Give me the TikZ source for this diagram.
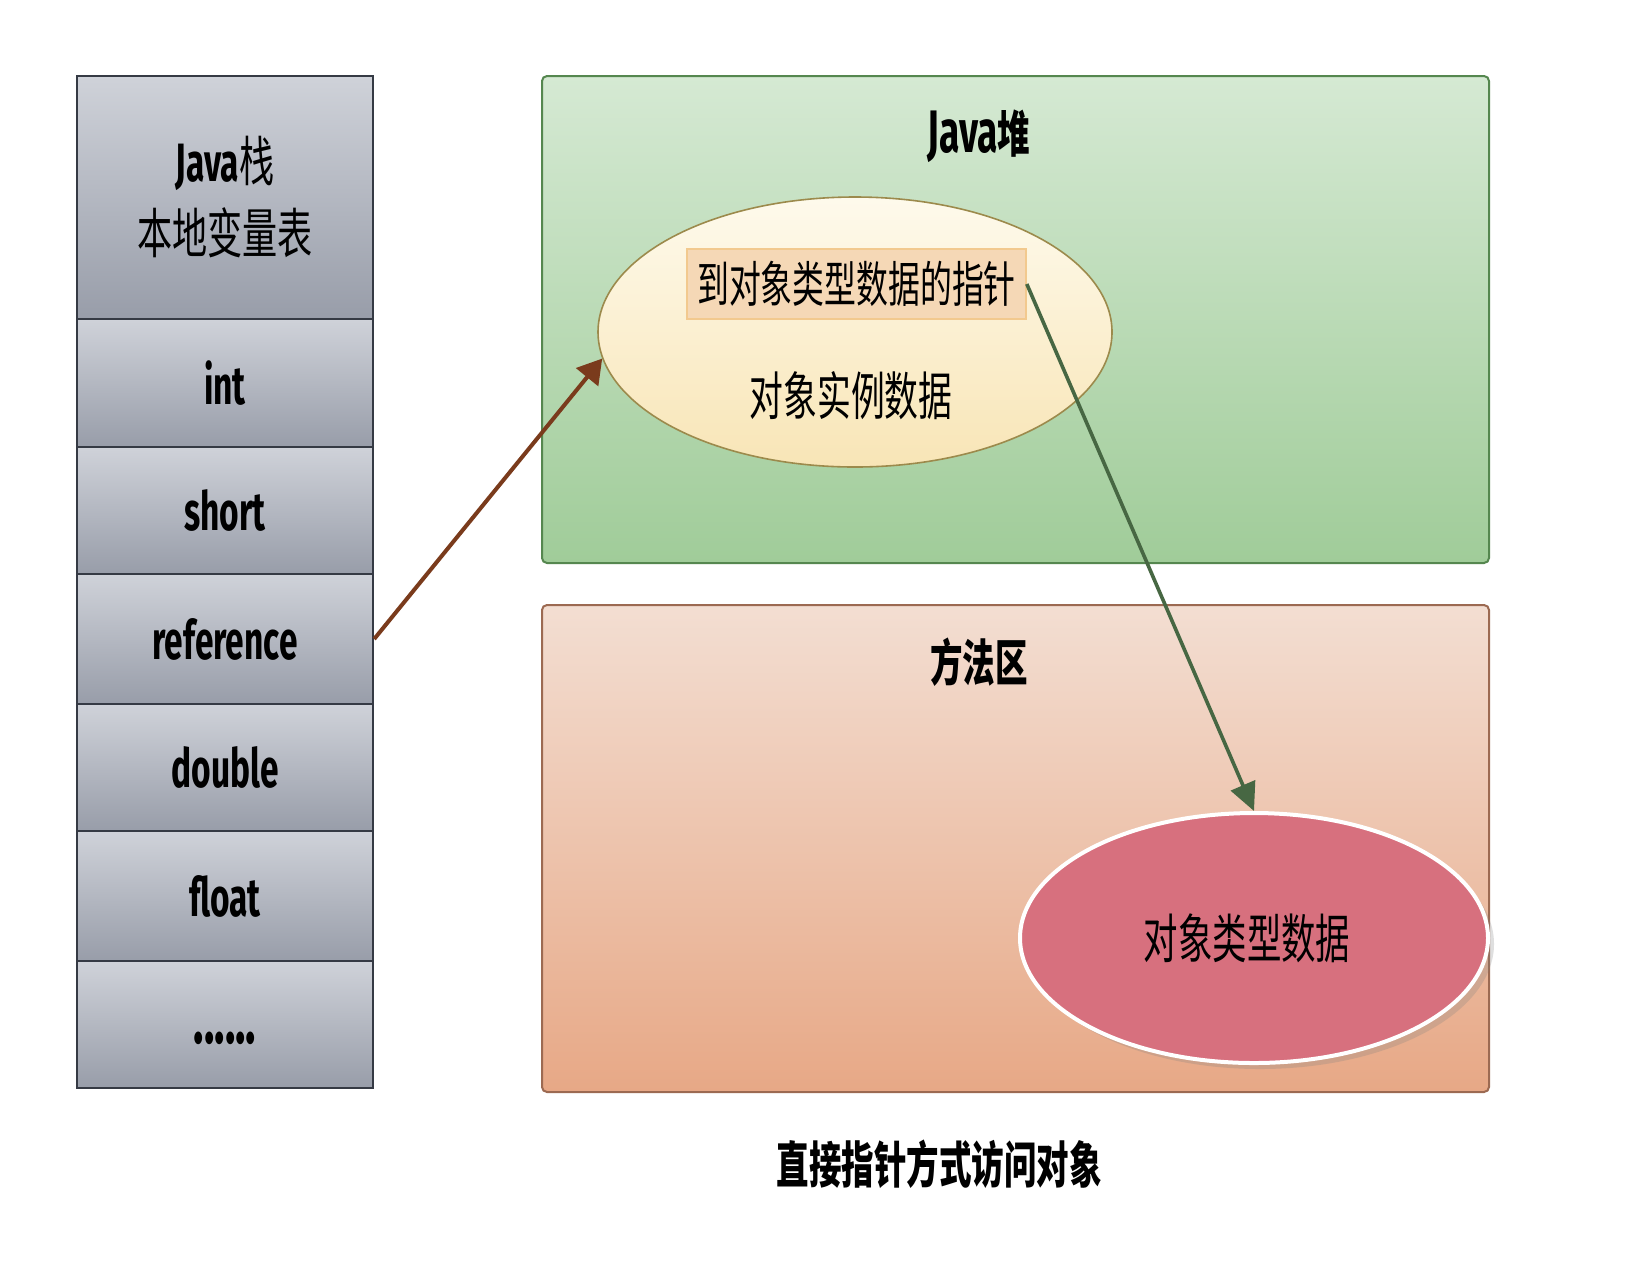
\documentclass[tikz,border=0pt]{standalone}
\usepackage{fontspec}
\setmainfont{Fira Sans}
\newfontfamily\latf[FakeStretch=0.62]{Fira Sans}
\newfontfamily\cjk[FakeStretch=0.65]{Noto Sans CJK SC}
\usetikzlibrary{shapes.geometric,arrows.meta,shadows}
\definecolor{celltop}{HTML}{CFD2D9}
\definecolor{cellbot}{HTML}{989DA9}
\definecolor{cellborder}{HTML}{353A44}
\definecolor{heaptop}{HTML}{D5E9D3}
\definecolor{heapbot}{HTML}{A0CC99}
\definecolor{heapborder}{HTML}{55874F}
\definecolor{mtop}{HTML}{F3DED2}
\definecolor{mbot}{HTML}{E7A886}
\definecolor{mborder}{HTML}{9C6A52}
\definecolor{ytop}{HTML}{FEFAEC}
\definecolor{ybot}{HTML}{F8E5B6}
\definecolor{yborder}{HTML}{9C8A4C}
\definecolor{ptrfill}{HTML}{F5D8B6}
\definecolor{ptrborder}{HTML}{F2C98E}
\definecolor{redfill}{HTML}{D7707E}
\definecolor{brownarrow}{HTML}{7A3B1C}
\definecolor{greenarrow}{HTML}{476743}
\tikzset{
  cell/.style={draw=cellborder, line width=1.2pt, top color=celltop, bottom color=cellbot,
    minimum width=148pt, minimum height=64pt, inner sep=0pt,
    font=\latf\bfseries\fontsize{27}{30}\selectfont},
  area/.style={line width=1pt, rounded corners=2.5pt, minimum width=473.5pt,
    minimum height=243.5pt, inner sep=0pt},
  title/.style={font=\cjk\bfseries\fontsize{25}{30}\selectfont, inner sep=0pt},
  cjktext/.style={font=\cjk\fontsize{26}{30}\selectfont, inner sep=0pt},
}
\begin{document}
\begin{tikzpicture}[x=0.5pt,y=-0.5pt]
\fill[white] (0,0) rectangle (1642,1260);
\useasboundingbox (0,0) rectangle (1642,1260);
% stack
\node[cell, minimum height=121.5pt, align=center] (hdr) at (225,197.5)
  {\raisebox{1pt}{\latf\bfseries Java{\cjk\mdseries 栈}}\\[5pt]{\cjk\mdseries 本地变量表}};
\node[cell] (int) at (225,383) {\raisebox{-2pt}{int}};
\node[cell, minimum height=63.5pt] (short) at (225,510.5) {\raisebox{-2pt}{short}};
\node[cell, minimum height=65pt] (ref) at (225,639) {\raisebox{-2pt}{reference}};
\node[cell, minimum height=63.5pt] (double) at (225,767.5) {\raisebox{-2pt}{double}};
\node[cell, minimum height=65pt] (float) at (225,896) {\raisebox{-2pt}{float}};
\node[cell, minimum height=63.5pt] (dots) at (225,1024.5)
  {\raisebox{-20pt}{\fontsize{35}{36}\selectfont ......}};
% heap
\node[area, draw=heapborder, top color=heaptop, bottom color=heapbot] (heap) at (1015.5,319.5) {};
\node[title] (heapt) at (979,136) {{\latf\bfseries\fontsize{30}{30}\selectfont Java}堆};
\node[ellipse, draw=yborder, line width=0.8pt, top color=ytop, bottom color=ybot,
  minimum width=257pt, minimum height=135pt, inner sep=0pt] (obj) at (855,332) {};
\node[draw=ptrborder, line width=0.8pt, fill=ptrfill, minimum width=169.5pt, minimum height=35pt,
  cjktext, font=\cjk\fontsize{24.5}{30}\selectfont] (ptr) at (856.5,284) {到对象类型数据的指针};
\node[cjktext] (inst) at (851,396) {对象实例数据};
% method area
\node[area, draw=mborder, top color=mtop, bottom color=mbot] (meth) at (1015.5,848.5) {};
\node[title] (metht) at (979,662) {方法区};
\node[ellipse, draw=white, line width=2pt, fill=redfill,
  drop shadow={shadow xshift=3pt, shadow yshift=-3pt, opacity=0.25},
  minimum width=234pt, minimum height=125pt, inner sep=0pt,
  font=\cjk\fontsize{26.5}{30}\selectfont] (type) at (1254,938) {\hspace*{-7pt}对象类型数据};
% arrows
\draw[brownarrow, line width=2pt, -{Triangle[length=12pt,width=14pt]}] (ref.east) -- (obj.186);
\draw[greenarrow, line width=1.8pt, -{Triangle[length=14pt,width=13pt]}] (ptr.east) -- (type.north);
% caption
\node[title] (cap) at (939,1164) {直接指针方式访问对象};
\end{tikzpicture}
\end{document}
